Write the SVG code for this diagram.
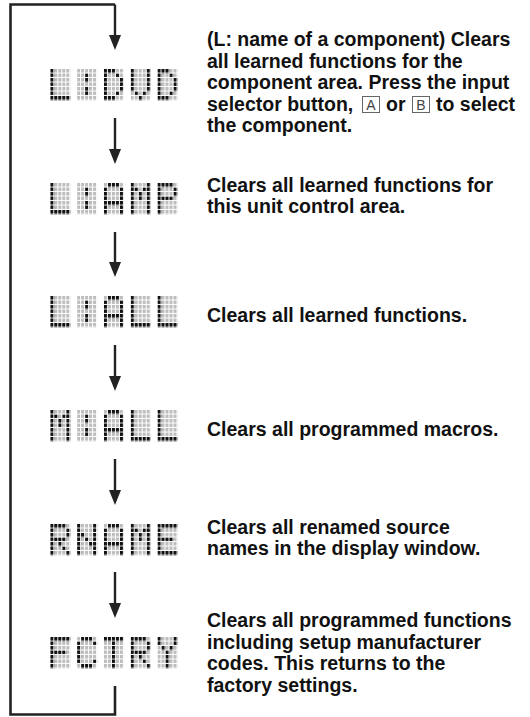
<svg xmlns="http://www.w3.org/2000/svg" xmlns:xlink="http://www.w3.org/1999/xlink" width="530" height="717" viewBox="0 0 530 717">
<style>
.t{font-family:"Liberation Sans",Arial,Helvetica,sans-serif;font-weight:bold;font-size:19.5px;fill:#111}
.k{font-family:"Liberation Sans",Arial,sans-serif;font-size:14px;fill:#444;text-anchor:middle}
.kb{fill:none;stroke:#666;stroke-width:1}
.ln{fill:none;stroke:#222;stroke-width:2.6}
.ar{fill:none;stroke:#222;stroke-width:2.4;marker-end:url(#ah)}
.bg{fill:url(#pg)}
.fg{fill:url(#pk)}
</style>
<defs>
<pattern id="pg" width="1" height="1" patternUnits="userSpaceOnUse"><rect width="0.75" height="0.78" fill="#bdbdbd"/></pattern>
<pattern id="pk" width="1" height="1" patternUnits="userSpaceOnUse"><rect width="0.75" height="0.78" fill="#111"/></pattern>
<marker id="ah" markerUnits="userSpaceOnUse" markerWidth="15" markerHeight="12" viewBox="0 -6 15 12" refX="7" refY="0" orient="auto"><path d="M0 -6L15 0L0 6z" fill="#222"/></marker>
<g id="cL"><rect class="bg" width="5" height="7"/><path class="fg" d="M0 0h1v7h-1z M0 6h5v1h-5z"/></g>
<g id="cCol"><rect class="bg" width="5" height="7"/><path class="fg" d="M2 1h1v2h-1z M2 4h1v2h-1z"/></g>
<g id="cD"><rect class="bg" width="5" height="7"/><path class="fg" d="M0 0h3v1h-3z M0 0h1v7h-1z M3 1h1v1h-1z M4 2h1v3h-1z M3 5h1v1h-1z M0 6h3v1h-3z"/></g>
<g id="cV"><rect class="bg" width="5" height="7"/><path class="fg" d="M0 0h1v5h-1z M4 0h1v5h-1z M1 5h1v1h-1z M3 5h1v1h-1z M2 6h1v1h-1z"/></g>
<g id="cA"><rect class="bg" width="5" height="7"/><path class="fg" d="M1 0h3v1h-3z M0 1h1v6h-1z M4 1h1v6h-1z M0 4h5v1h-5z"/></g>
<g id="cM"><rect class="bg" width="5" height="7"/><path class="fg" d="M0 0h1v7h-1z M4 0h1v7h-1z M1 1h1v1h-1z M3 1h1v1h-1z M2 2h1v2h-1z"/></g>
<g id="cP"><rect class="bg" width="5" height="7"/><path class="fg" d="M0 0h4v1h-4z M0 0h1v7h-1z M4 1h1v2h-1z M0 3h4v1h-4z"/></g>
<g id="cR"><rect class="bg" width="5" height="7"/><path class="fg" d="M0 0h4v1h-4z M0 0h1v7h-1z M4 1h1v2h-1z M0 3h4v1h-4z M2 4h1v1h-1z M3 5h1v1h-1z M4 6h1v1h-1z"/></g>
<g id="cN"><rect class="bg" width="5" height="7"/><path class="fg" d="M0 0h1v7h-1z M4 0h1v7h-1z M1 2h1v1h-1z M2 3h1v1h-1z M3 4h1v1h-1z"/></g>
<g id="cE"><rect class="bg" width="5" height="7"/><path class="fg" d="M0 0h5v1h-5z M0 0h1v7h-1z M0 3h4v1h-4z M0 6h5v1h-5z"/></g>
<g id="cF"><rect class="bg" width="5" height="7"/><path class="fg" d="M0 0h5v1h-5z M0 0h1v7h-1z M0 3h4v1h-4z"/></g>
<g id="cC"><rect class="bg" width="5" height="7"/><path class="fg" d="M1 0h3v1h-3z M4 1h1v1h-1z M0 1h1v5h-1z M4 5h1v1h-1z M1 6h3v1h-3z"/></g>
<g id="cT"><rect class="bg" width="5" height="7"/><path class="fg" d="M0 0h5v1h-5z M2 0h1v7h-1z"/></g>
<g id="cY"><rect class="bg" width="5" height="7"/><path class="fg" d="M0 0h1v2h-1z M4 0h1v2h-1z M1 2h1v1h-1z M3 2h1v1h-1z M2 3h1v4h-1z"/></g>
</defs>
<rect width="530" height="717" fill="#fff"/>
<g id="connectors">
<path class="ln" d="M115 686V714.5H10.5V4.5H115"/>
<path class="ar" d="M115 4.5V42"/>
<path class="ar" d="M115 118V156"/>
<path class="ar" d="M115 232V269"/>
<path class="ar" d="M115 345V383"/>
<path class="ar" d="M115 459V497"/>
<path class="ar" d="M115 572V610"/>
</g>
<g id="step-ldvd">
<g transform="translate(50.3,69) scale(4,4.5)"><use xlink:href="#cL"/><use xlink:href="#cCol" x="6.7"/><use xlink:href="#cD" x="13.4"/><use xlink:href="#cV" x="20.1"/><use xlink:href="#cD" x="26.8"/></g>
<text class="t" x="207" y="46">(L: name of a component) Clears</text>
<text class="t" x="207" y="67.5">all learned functions for the</text>
<text class="t" x="207" y="89">component area. Press the input</text>
<text class="t" x="207" y="110.5">selector button,</text>
<rect class="kb" x="362.5" y="96.5" width="17" height="16"/>
<text class="k" x="371" y="110">A</text>
<text class="t" x="386" y="110.5">or</text>
<rect class="kb" x="412.5" y="96.5" width="17" height="16"/>
<text class="k" x="421" y="110">B</text>
<text class="t" x="436" y="110.5">to select</text>
<text class="t" x="207" y="132">the component.</text>
</g>
<g id="step-lamp">
<g transform="translate(50.3,183) scale(4,4.5)"><use xlink:href="#cL"/><use xlink:href="#cCol" x="6.7"/><use xlink:href="#cA" x="13.4"/><use xlink:href="#cM" x="20.1"/><use xlink:href="#cP" x="26.8"/></g>
<text class="t" x="207" y="191.5">Clears all learned functions for</text>
<text class="t" x="207" y="213">this unit control area.</text>
</g>
<g id="step-lall">
<g transform="translate(50.3,296) scale(4,4.5)"><use xlink:href="#cL"/><use xlink:href="#cCol" x="6.7"/><use xlink:href="#cA" x="13.4"/><use xlink:href="#cL" x="20.1"/><use xlink:href="#cL" x="26.8"/></g>
<text class="t" x="207" y="322">Clears all learned functions.</text>
</g>
<g id="step-mall">
<g transform="translate(50.3,410) scale(4,4.5)"><use xlink:href="#cM"/><use xlink:href="#cCol" x="6.7"/><use xlink:href="#cA" x="13.4"/><use xlink:href="#cL" x="20.1"/><use xlink:href="#cL" x="26.8"/></g>
<text class="t" x="207" y="436">Clears all programmed macros.</text>
</g>
<g id="step-rname">
<g transform="translate(50.3,524) scale(4,4.5)"><use xlink:href="#cR"/><use xlink:href="#cN" x="6.7"/><use xlink:href="#cA" x="13.4"/><use xlink:href="#cM" x="20.1"/><use xlink:href="#cE" x="26.8"/></g>
<text class="t" x="207" y="533.5">Clears all renamed source</text>
<text class="t" x="207" y="555">names in the display window.</text>
</g>
<g id="step-fctry">
<g transform="translate(50.3,637) scale(4,4.5)"><use xlink:href="#cF"/><use xlink:href="#cC" x="6.7"/><use xlink:href="#cT" x="13.4"/><use xlink:href="#cR" x="20.1"/><use xlink:href="#cY" x="26.8"/></g>
<text class="t" x="207" y="627">Clears all programmed functions</text>
<text class="t" x="207" y="648.5">including setup manufacturer</text>
<text class="t" x="207" y="670">codes. This returns to the</text>
<text class="t" x="207" y="691.5">factory settings.</text>
</g>
</svg>
